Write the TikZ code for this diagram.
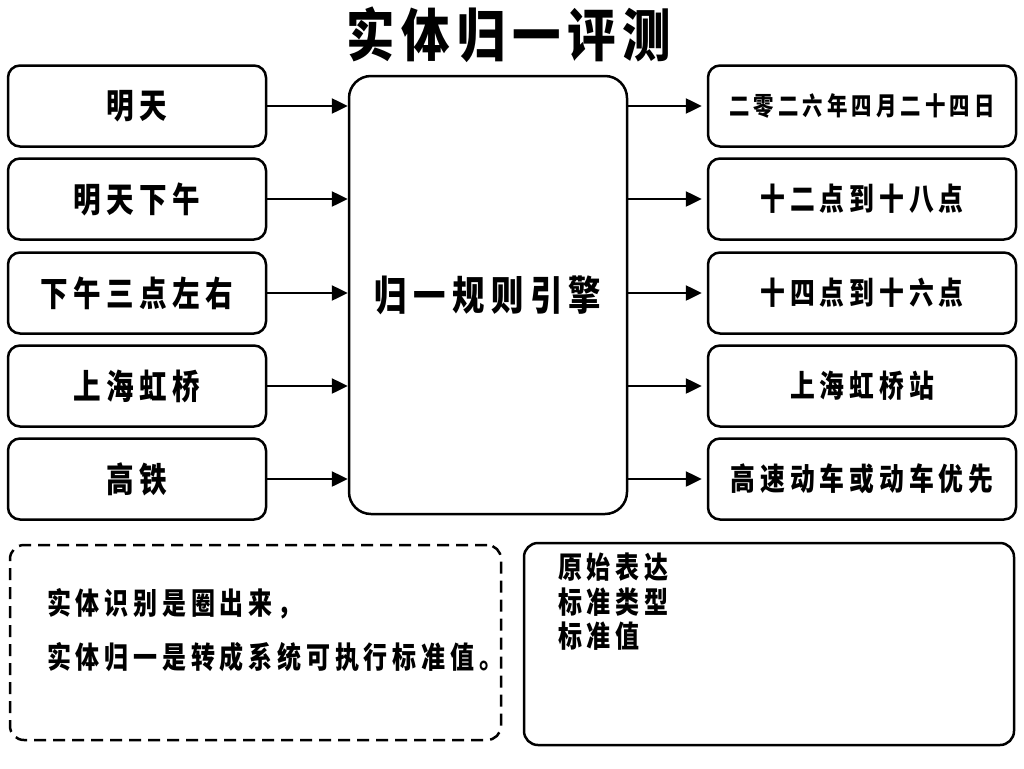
\documentclass[tikz,border=0pt]{standalone}
\usepackage{fontspec}
\newfontfamily\cjk{Noto Sans CJK SC}[FakeStretch=0.8, LetterSpace=16]
\newfontfamily\cjktitle{Noto Sans CJK SC}[FakeStretch=0.85, LetterSpace=12]
\usetikzlibrary{arrows.meta}

\tikzset{
  box/.style={draw, line width=2.5pt, rounded corners=12pt, inner sep=0pt,
    minimum height=81pt, font=\cjk\bfseries\fontsize{34.5}{36}\selectfont},
  inbox/.style={box, minimum width=258pt},
  outbox/.style={box, minimum width=308pt},
  enginebox/.style={box, rounded corners=22pt, minimum width=278pt, minimum height=438pt,
    font=\cjk\bfseries\fontsize{40.5}{42}\selectfont},
  flow/.style={line width=2.5pt, arrows={-Triangle[length=16pt, width=15pt]}},
  note/.style={font=\cjk\bfseries\fontsize{30}{54}\selectfont, align=left, inner sep=0pt}
}

\begin{document}
\begin{tikzpicture}[x=1pt, y=-1pt]
        \useasboundingbox (0, 0) rectangle (1024, 768);

        \node [font=\cjktitle\bfseries\fontsize{57}{60}\selectfont] (title) at (509, 35) {实体归一评测};

        \node [enginebox] (engine) at (488, 295) {归一规则引擎};

        \foreach \i / \y / \intext / \outtext / \outsize in {1/106/明天/二零二六年四月二十四日/25.5,
            2/199/明天下午/十二点到十八点/31, 3/293/下午三点左右/十四点到十六点/31,
            4/386/上海虹桥/上海虹桥站/31, 5/479/高铁/高速动车或动车优先/31}{
          \node [inbox] (in\i) at (137, \y) {\intext};
          \node [outbox, font=\cjk\bfseries\fontsize{\outsize}{34}\selectfont] (out\i) at (862, \y) {\outtext};
          \draw [flow] (in\i.east) -- (in\i.east -| engine.west);
          \draw [flow] (engine.east |- out\i.west) -- ([xshift=-5pt]out\i.west);
        }

        % bottom notes
        \node [draw, line width=2.5pt, dash pattern=on 12pt off 7pt, rounded corners=14pt,
          minimum width=491pt, minimum height=195pt] (notebox) at (255.5, 642.5) {};
        \node [note, anchor=west] (notetext) at (47, 630) {实体识别是圈出来，\\实体归一是转成系统可执行标准值。};

        \node [draw, line width=2.5pt, rounded corners=14pt,
          minimum width=490pt, minimum height=202pt] (fields) at (769, 644) {};
        \node [note, font=\cjk\bfseries\fontsize{30}{34.5}\selectfont, anchor=north west]
          (fieldtext) at (558, 553) {原始表达\\标准类型\\标准值};
      \end{tikzpicture}
\end{document}
